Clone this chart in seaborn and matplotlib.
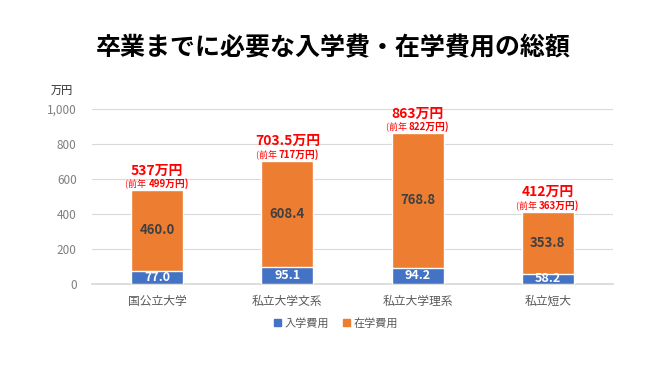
import matplotlib
matplotlib.use("Agg")
import matplotlib.pyplot as plt
import seaborn as sns
import pandas as pd
from matplotlib.offsetbox import TextArea, HPacker, AnnotationBbox
from matplotlib.patches import Patch
from matplotlib.ticker import FuncFormatter

categories = ["国公立大学", "私立大学文系", "私立大学理系", "私立短大"]
entrance = [77.0, 95.1, 94.2, 58.2]
tuition = [460.0, 608.4, 768.8, 353.8]
totals_label = ["537万円", "703.5万円", "863万円", "412万円"]
prev_label = ["499万円", "717万円", "822万円", "363万円"]
series_names = ["入学費用", "在学費用"]
yticks = [0, 200, 400, 600, 800, 1000]

sns.set_theme(style="white")
plt.rcParams["font.family"] = ["Noto Sans CJK JP", "DejaVu Sans"]

BLUE = "#4472C4"
ORANGE = "#ED7D31"
RED = "#FF0000"
GREY = "#595959"

df = pd.DataFrame({"cat": categories, "entrance": entrance, "tuition": tuition})
df["total"] = df["entrance"] + df["tuition"]

fig = plt.figure(figsize=(6.66, 3.75), dpi=100)
ax = fig.add_axes([92/666, 1-284/375, (613-92)/666, (284-109)/375])

sns.barplot(data=df, x="cat", y="total", color=ORANGE, width=0.4, ax=ax,
            saturation=1, zorder=3)
sns.barplot(data=df, x="cat", y="entrance", color=BLUE, width=0.4, ax=ax,
            saturation=1, zorder=3)

ax.set_ylim(0, 1000)
ax.set_xlim(-0.5, len(categories) - 0.5)
ax.set_yticks(yticks)
ax.yaxis.set_major_formatter(FuncFormatter(lambda v, p: f"{int(v):,}"))
ax.grid(axis="y", color="#D9D9D9", linewidth=0.8, zorder=0)
ax.set_axisbelow(True)
for s in ["top", "right", "left"]:
    ax.spines[s].set_visible(False)
ax.spines["bottom"].set_color("#D9D9D9")
ax.tick_params(axis="both", length=0, colors="#7F7F7F", labelsize=8.5)
ax.tick_params(axis="x", pad=8, colors=GREY)
ax.tick_params(axis="y", pad=11)
ax.set_xlabel("")
ax.set_ylabel("")

for i, row in df.iterrows():
    ax.text(i, row["entrance"] / 2, f"{row['entrance']:.1f}", ha="center", va="center",
            color="white", fontsize=9, fontweight="bold", zorder=5)
    ax.text(i, row["entrance"] + row["tuition"] / 2, f"{row['tuition']:.1f}", ha="center",
            va="center", color="#404040", fontsize=9.5, fontweight="bold", zorder=5)
    # previous-year line
    t1 = TextArea("(前年 ", textprops=dict(color=RED, fontsize=6.5))
    t2 = TextArea(prev_label[i] + ")", textprops=dict(color=RED, fontsize=7, fontweight="bold"))
    box = HPacker(children=[t1, t2], align="baseline", pad=0, sep=0)
    ab = AnnotationBbox(box, (i, row["total"]), xybox=(0, 0.5), xycoords="data",
                        boxcoords="offset points", frameon=False, box_alignment=(0.5, 0),
                        pad=0)
    ax.add_artist(ab)
    ax.annotate(totals_label[i], (i, row["total"]), xytext=(0, 9), textcoords="offset points",
                ha="center", va="bottom", color=RED, fontsize=10, fontweight="bold")

fig.text(0.5, 1 - 48/375, "卒業までに必要な入学費・在学費用の総額", ha="center", va="center",
         fontsize=18, fontweight="bold", color="black")
fig.text(62/666, 1 - 91/375, "万円", ha="center", va="center", fontsize=8, color="#262626")

handles = [Patch(facecolor=BLUE, edgecolor=BLUE), Patch(facecolor=ORANGE, edgecolor=ORANGE)]
fig.legend(handles, series_names, loc="center", bbox_to_anchor=(336/666, 1 - 323/375),
           ncol=2, frameon=False, fontsize=8, handlelength=0.7, handleheight=0.7,
           handletextpad=0.3, columnspacing=1.2, labelcolor=GREY)

fig.savefig("out.png", dpi=100)
